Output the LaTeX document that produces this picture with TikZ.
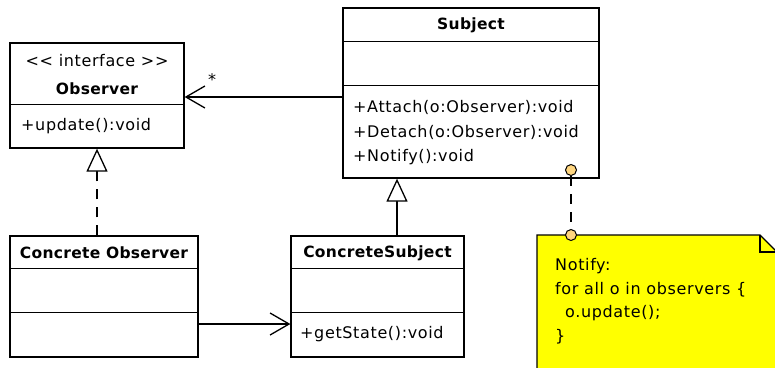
\documentclass[tikz,border=0pt]{standalone}
\usepackage{fontspec}
\setmainfont{DejaVu Sans}
\newfontfamily\umlfont[LetterSpace=4]{DejaVu Sans}
\newfontfamily\umltitle[LetterSpace=2]{DejaVu Sans}
\usetikzlibrary{arrows.meta,calc}
\definecolor{notefill}{RGB}{255,255,0}
\definecolor{pinfill}{RGB}{255,214,128}
\tikzset{
  classbox/.style={draw, line width=1.3pt, inner sep=0pt, fill=white},
  sepline/.style={line width=1.3pt},
  ttl/.style={font=\umltitle\fontsize{15.5}{19}\selectfont\bfseries, inner sep=0pt},
  txt/.style={font=\umlfont\fontsize{16}{19}\selectfont, inner sep=0pt},
  member/.style={txt, anchor=west},
  conn/.style={line width=1.3pt},
  barb/.style={conn, -{Straight Barb[length=19pt, width=22pt, line width=1.3pt]}},
  gen/.style={conn, -{Triangle[fill=white, length=23pt, width=21pt, line width=1.3pt]}},
  dashlink/.style={line width=1.3pt, dash pattern=on 10pt off 8pt},
  pin/.style={draw, line width=1pt, fill=pinfill, circle, inner sep=0pt, minimum size=11pt},
}
\begin{document}
\begin{tikzpicture}[x=1pt, y=-1pt]
\useasboundingbox (0,0) rectangle (775,367);

% Observer interface
\node[classbox, minimum width=174pt, minimum height=105pt] (obs) at (97,95.5) {};
\draw[sepline] ($(obs.north west)+(0,62)$) -- ($(obs.north east)+(0,62)$);
\node[txt] (obsst) at (97,61) {{<}{<} interface {>}{>}};
\node[ttl] (obsname) at (97,89) {Observer};
\node[member] (obsop) at (21,126) {+update():void};

% Subject
\node[classbox, minimum width=256pt, minimum height=170pt] (sub) at (471,93) {};
\draw[sepline] ($(sub.north west)+(0,34)$) -- ($(sub.north east)+(0,34)$);
\draw[sepline] ($(sub.north west)+(0,78)$) -- ($(sub.north east)+(0,78)$);
\node[ttl] (subname) at (471,25) {Subject};
\node[member] (subop1) at (353,107) {+Attach(o:Observer):void};
\node[member] (subop2) at (353,132) {+Detach(o:Observer):void};
\node[member] (subop3) at (353,157) {+Notify():void};

% ConcreteObserver
\node[classbox, minimum width=188pt, minimum height=121pt] (cobs) at (104,296.5) {};
\draw[sepline] ($(cobs.north west)+(0,33)$) -- ($(cobs.north east)+(0,33)$);
\draw[sepline] ($(cobs.north west)+(0,77)$) -- ($(cobs.north east)+(0,77)$);
\node[ttl] (cobsname) at (104,253) {Concrete Observer};

% ConcreteSubject
\node[classbox, minimum width=173pt, minimum height=121pt] (csub) at (377.5,296.5) {};
\draw[sepline] ($(csub.north west)+(0,33)$) -- ($(csub.north east)+(0,33)$);
\draw[sepline] ($(csub.north west)+(0,77)$) -- ($(csub.north east)+(0,77)$);
\node[ttl] (csubname) at (377.5,253) {ConcreteSubject};
\node[member] (csubop) at (300,334) {+getState():void};

% Note attached to Notify()
\path[fill=notefill, draw, line width=1.3pt]
  (537,235) -- (760,235) -- (777,252) -- (777,372) -- (537,372) -- cycle;
\draw[line width=1.3pt] (760,235) -- (760,252) -- (777,252);
\node[txt, anchor=west] (n1) at (555,266) {Notify:};
\node[txt, anchor=west] (n2) at (555,290) {for all o in observers \{};
\node[txt, anchor=west] (n3) at (565,313) {o.update();};
\node[txt, anchor=west] (n4) at (555,337) {\}};

% Connector guide coordinates
\coordinate (assocy) at (0,97);
\coordinate (genx) at (397,0);
\coordinate (usey) at (0,324);

% Subject --* Observer association
\draw[barb] (sub.west |- assocy) -- (obs.east |- assocy);
\node[txt] (mult) at (212,80) {*};

% Realization ConcreteObserver -> Observer
\draw[gen, dash pattern=on 10pt off 8pt] (cobs.north -| obs.south) -- (obs.south);

% Generalization ConcreteSubject -> Subject
\draw[gen] (csub.north -| genx) -- (sub.south -| genx);

% ConcreteObserver -> ConcreteSubject
\draw[barb] (cobs.east |- usey) -- (csub.west |- usey);

% Note link
\node[pin] (pinsub) at (571,170) {};
\node[pin] (pinnote) at (571,235) {};
\draw[dashlink] (pinsub) -- (pinnote);
\end{tikzpicture}
\end{document}
